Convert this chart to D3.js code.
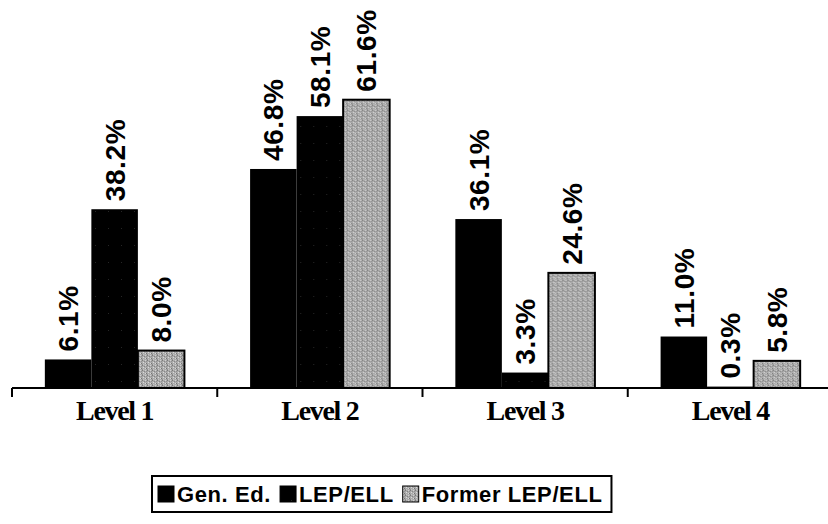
<!DOCTYPE html>
<html>
<head>
<meta charset="utf-8">
<script src="https://cdn.jsdelivr.net/npm/d3@7/dist/d3.min.js"></script>
<style>
  html, body { margin: 0; padding: 0; background: #fff; }
  svg { display: block; }
</style>
</head>
<body>
<svg id="chart" width="828" height="524"></svg>
<script>
// ---- data ----
const categories = ["Level 1", "Level 2", "Level 3", "Level 4"];
const seriesNames = ["Gen. Ed.", "LEP/ELL", "Former LEP/ELL"];
const genEd = [6.1, 46.8, 36.1, 11.0];
const lepEll = [38.2, 58.1, 3.3, 0.3];
const formerLepEll = [8.0, 61.6, 24.6, 5.8];
const valueLabels = [
  ["6.1%", "46.8%", "36.1%", "11.0%"],
  ["38.2%", "58.1%", "3.3%", "0.3%"],
  ["8.0%", "61.6%", "24.6%", "5.8%"]
];

const seriesValues = [genEd, lepEll, formerLepEll];

const svg = d3.select("#chart");
const defs = svg.append("defs");

// halftone-like pattern for Former LEP/ELL
const pGray = defs.append("pattern").attr("id", "grayTex")
  .attr("width", 5).attr("height", 5).attr("patternUnits", "userSpaceOnUse");
pGray.append("rect").attr("width", 5).attr("height", 5).attr("fill", "#ababab");
[[0,0,"#7a7a7a"],[2,1,"#868686"],[1,2,"#dadada"],[4,3,"#747474"],[3,0,"#cfcfcf"],[0,4,"#8e8e8e"],[3,3,"#d6d6d6"],[1,4,"#c4c4c4"],[4,1,"#909090"]]
  .forEach(([x,y,c]) => pGray.append("rect").attr("x", x).attr("y", y).attr("width", 1).attr("height", 1).attr("fill", c));

// sparse speckle pattern for LEP/ELL
const pDark = defs.append("pattern").attr("id", "darkTex")
  .attr("width", 13).attr("height", 17).attr("patternUnits", "userSpaceOnUse");
pDark.append("rect").attr("width", 13).attr("height", 17).attr("fill", "#000");
pDark.append("rect").attr("x", 5).attr("y", 7).attr("width", 1).attr("height", 1).attr("fill", "#262626");

const fills = ["#000", "url(#darkTex)", "url(#grayTex)"];

// ---- scales ----
const baseY = 388;
const x0 = d3.scaleBand().domain(categories).range([12, 833]).paddingInner(0).paddingOuter(0);
const x1 = d3.scaleBand().domain(seriesNames).range([0, x0.bandwidth()]).paddingInner(0).paddingOuter(0.706);
const y = d3.scaleLinear().domain([0, 80]).range([baseY, baseY - 80 * 4.68]);

// ---- bars ----
const groups = svg.append("g").selectAll("g")
  .data(categories)
  .join("g")
  .attr("transform", d => `translate(${x0(d)},0)`);

groups.each(function(cat, ci) {
  const g = d3.select(this);
  seriesNames.forEach((s, si) => {
    const v = seriesValues[si][ci];
    g.append("rect")
      .attr("x", x1(s))
      .attr("y", y(v))
      .attr("width", x1.bandwidth())
      .attr("height", baseY - y(v))
      .attr("fill", fills[si])
      .attr("stroke", si === 2 ? "#000" : "none")
      .attr("stroke-width", si === 2 ? 2 : 0);
    const cx = x1(s) + x1.bandwidth() / 2;
    g.append("text")
      .attr("transform", `translate(${cx},${y(v) - 8}) rotate(-90)`)
      .attr("dy", "0.36em")
      .attr("text-anchor", "start")
      .attr("font-family", "Liberation Sans, Arial, sans-serif")
      .attr("font-weight", "bold")
      .attr("font-size", 28)
      .attr("letter-spacing", 0.6)
      .attr("fill", "#000")
      .text(valueLabels[si][ci]);
  });
});

// ---- x axis ----
const axis = svg.append("g");
axis.append("line")
  .attr("x1", 12).attr("x2", 828).attr("y1", baseY).attr("y2", baseY)
  .attr("stroke", "#000").attr("stroke-width", 2);
categories.forEach(c => {
  axis.append("line")
    .attr("x1", x0(c)).attr("x2", x0(c))
    .attr("y1", baseY).attr("y2", baseY + 9)
    .attr("stroke", "#000").attr("stroke-width", 2);
  axis.append("text")
    .attr("x", x0(c) + x0.bandwidth() / 2)
    .attr("y", 420)
    .attr("text-anchor", "middle")
    .attr("font-family", "Liberation Serif, Times New Roman, serif")
    .attr("font-weight", "bold")
    .attr("font-size", 28)
    .attr("letter-spacing", -1.3)
    .attr("fill", "#000")
    .text(c);
});

// ---- legend ----
const legend = svg.append("g");
const legendFont = 22;
let lx = 158;
const ly = 494;
seriesNames.forEach((s, i) => {
  legend.append("rect")
    .attr("x", lx).attr("y", ly - 8).attr("width", 16).attr("height", 16)
    .attr("fill", fills[i]).attr("stroke", "#000").attr("stroke-width", 1);
  lx += 19;
  const t = legend.append("text")
    .attr("x", lx).attr("y", ly + 8)
    .attr("font-family", "Liberation Sans, Arial, sans-serif")
    .attr("font-weight", "bold")
    .attr("font-size", legendFont)
    .attr("letter-spacing", 0.6)
    .attr("fill", "#000")
    .text(s);
  lx += t.node().getComputedTextLength() + 9;
});
legend.insert("rect", ":first-child")
  .attr("x", 152).attr("y", 476)
  .attr("width", lx - 152).attr("height", 36)
  .attr("fill", "#fff").attr("stroke", "#000").attr("stroke-width", 2);
</script>
</body>
</html>
